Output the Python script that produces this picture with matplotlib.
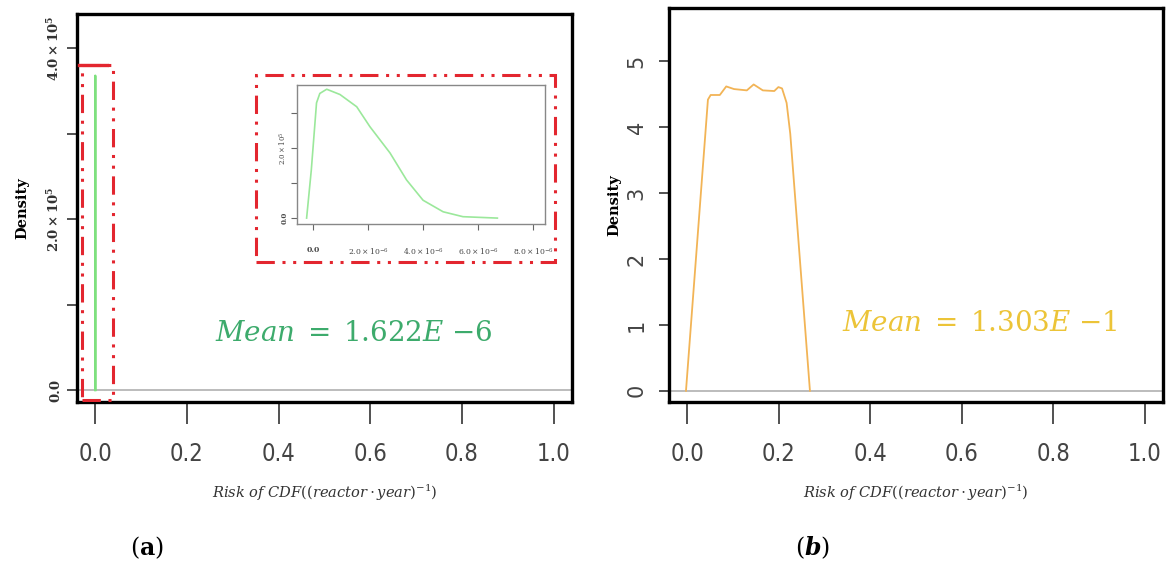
import numpy as np
import matplotlib
matplotlib.use("Agg")
import matplotlib.pyplot as plt
from matplotlib.patches import Rectangle

# density of risk, panel (a) (x in 1e-6, y in 1e5)
risk_a = np.array([-0.23, -0.06, 0.13, 0.25, 0.5, 0.98, 1.59, 2.07, 2.8, 3.4, 4.0, 4.73, 5.45, 6.7]) * 1e-6
dens_a = np.array([0, 1.37, 3.29, 3.56, 3.68, 3.53, 3.18, 2.61, 1.86, 1.09, 0.51, 0.18, 0.04, 0]) * 1e5

# density of risk, panel (b)
risk_b = [-0.003, 0.045, 0.051, 0.071, 0.085, 0.102, 0.13, 0.145, 0.165, 0.19, 0.199, 0.207, 0.217, 0.225, 0.268]
dens_b = [0, 4.42, 4.49, 4.49, 4.62, 4.58, 4.56, 4.65, 4.56, 4.55, 4.61, 4.59, 4.37, 3.9, 0]

xticks = [0.0, 0.2, 0.4, 0.6, 0.8, 1.0]
xticklabels = ["0.0", "0.2", "0.4", "0.6", "0.8", "1.0"]
yticks_a = [0, 1e5, 2e5, 3e5, 4e5]
yticklabels_a = ["0.0", "", r"$\mathbf{2.0\times10^5}$", "", r"$\mathbf{4.0\times10^5}$"]
yticks_b = [0, 1, 2, 3, 4, 5]
inset_xticks = [0, 2e-6, 4e-6, 6e-6, 8e-6]
inset_xlabels = ["0.0", r"$2.0\times10^{-6}$", r"$4.0\times10^{-6}$", r"$6.0\times10^{-6}$", r"$8.0\times10^{-6}$"]
inset_yticks = [0, 1e5, 2e5, 3e5]
inset_ylabels = ["0.0", "", r"$2.0\times10^5$", ""]

plt.rcParams["mathtext.fontset"] = "dejavuserif"
narrow = ["Liberation Sans Narrow", "DejaVu Sans"]
green_line = "#7ee07e"
orange_line = "#f2b456"
red = "#e3262f"
xlabel = r"$Risk\ of\ CDF((reactor\cdot year)^{-1})$"

fig = plt.figure(figsize=(11.66, 5.73), dpi=100)
ax1 = fig.add_axes([0.066, 0.2984, 0.4245, 0.677])
ax2 = fig.add_axes([0.5738, 0.2984, 0.4237, 0.6876])

for ax in (ax1, ax2):
    for s in ax.spines.values():
        s.set_linewidth(2.4)
    ax.axhline(0, color="#b0b0b0", lw=1.2, zorder=1)
    ax.set_xlim(-0.04, 1.04)
    ax.set_xticks(xticks)
    ax.set_xticklabels(xticklabels, family=narrow, fontstretch="condensed", fontsize=17, color="#444444")
    ax.tick_params(axis="x", length=16, width=1.2, color="#333333", pad=13)
    ax.tick_params(axis="y", length=7, width=1.2, color="#333333")
    ax.set_xlabel(xlabel, fontsize=10.5, color="#333333", labelpad=12)

# panel (a)
ax1.plot(risk_a, dens_a, color=green_line, lw=1.6, zorder=3)
ax1.set_ylim(-0.14e5, 4.4e5)
ax1.set_yticks(yticks_a)
ax1.set_yticklabels(yticklabels_a, rotation=90, va="center", family="DejaVu Serif",
                    fontweight="bold", fontsize=9.5, color="#333333")
ax1.set_ylabel("Density", family="DejaVu Serif", fontweight="bold", fontsize=10.5, labelpad=12)
ax1.text(0.56, 0.178, r"$Mean\;=\;1.622E\ {-6}$", transform=ax1.transAxes,
         ha="center", va="center", fontsize=20, color="#3dab6c")

# red boxes around the spike and the zoom
ax1.add_patch(Rectangle((-0.028, -0.12e5), 0.067, 3.93e5, fill=False, ec=red, lw=2.2,
                        ls=(0, (6, 2.5, 1, 2.5, 1, 2.5)), zorder=4))
ax1.plot([-0.035, 0.026], [3.81e5, 3.81e5], color=red, lw=2.4, zorder=4)
ax1.add_patch(Rectangle((0.362, 0.361), 0.604, 0.482, transform=ax1.transAxes, fill=False,
                        ec=red, lw=2.2, ls=(0, (6, 2.5, 1, 2.5, 1, 2.5)), zorder=4))

# inset
axi = fig.add_axes([0.2547, 0.609, 0.2127, 0.2426])
axi.plot(risk_a, dens_a, color="#9be89b", lw=1.2)
axi.set_xlim(-0.58e-6, 8.43e-6)
axi.set_ylim(-0.17e5, 3.8e5)
for s in axi.spines.values():
    s.set_color("#888888")
    s.set_linewidth(1)
axi.set_xticks(inset_xticks)
axi.set_xticklabels(inset_xlabels, fontsize=5.5, family="DejaVu Serif", fontweight="bold", color="#444444")
axi.set_yticks(inset_yticks)
axi.set_yticklabels(inset_ylabels, fontsize=5, rotation=90, va="center", family="DejaVu Serif",
                    fontweight="bold", color="#444444")
axi.tick_params(axis="x", length=4, color="#666666", pad=12)
axi.tick_params(axis="y", length=4, color="#666666", pad=2)

# panel (b)
ax2.plot(risk_b, dens_b, color=orange_line, lw=1.3, zorder=3)
ax2.set_ylim(-0.17, 5.81)
ax2.set_yticks(yticks_b)
ax2.set_yticklabels([str(v) for v in yticks_b], rotation=90, va="center", fontsize=15, color="#444444")
ax2.tick_params(axis="y", pad=9)
ax2.set_ylabel("Density", family="DejaVu Serif", fontweight="bold", fontsize=10.5, labelpad=4)
ax2.text(0.628, 0.2, r"$Mean\;=\;1.303E\ {-1}$", transform=ax2.transAxes,
         ha="center", va="center", fontsize=20, color="#ecc438")

fig.text(147 / 1166, 1 - 548 / 573, r"$(\mathbf{a})$", ha="center", va="center", fontsize=17)
fig.text(813 / 1166, 1 - 548 / 573, r"$(\boldsymbol{b})$", ha="center", va="center", fontsize=17)

fig.savefig("out.png", dpi=100)
